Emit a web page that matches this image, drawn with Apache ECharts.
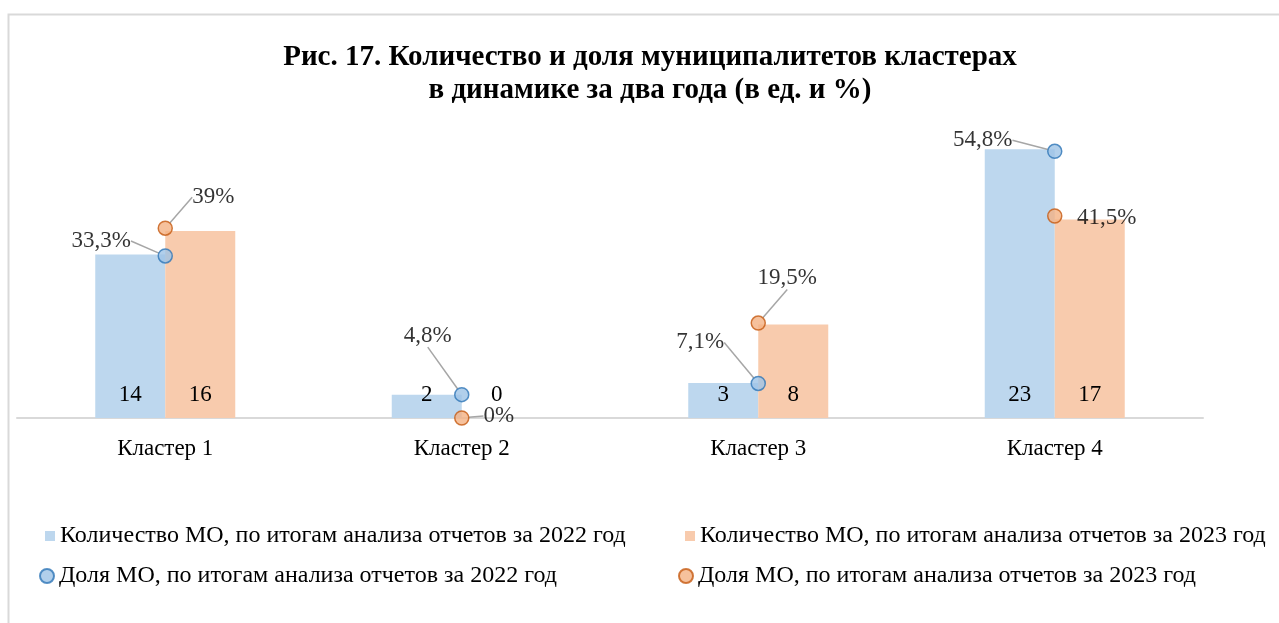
<!DOCTYPE html>
<html>
<head>
<meta charset="utf-8">
<script src="https://cdn.jsdelivr.net/npm/echarts@6/dist/echarts.min.js"></script>
<style>
html,body{margin:0;padding:0;background:#fff}
#Chart{width:1279px;height:623px}
</style>
</head>
<body>
<div id="Chart"></div>
<script>
// данные
var categories=["Кластер 1","Кластер 2","Кластер 3","Кластер 4"]
var count2022=[14,2,3,23]
var count2023=[16,0,8,17]
var share2022=[33.3,4.8,7.1,54.8]
var share2023=[39,0,19.5,41.5]
var names=[
    "Количество МО, по итогам анализа отчетов за 2022 год",
    "Количество МО, по итогам анализа отчетов за 2023 год",
    "Доля МО, по итогам анализа отчетов за 2022 год",
    "Доля МО, по итогам анализа отчетов за 2023 год"
]

// сдвиги подписей процентов
var shift2022=[[-64,-15],[-34,-59],[-58,-41],[-72,-11]]
var shift2023=[[48,-31],[37,-2],[29,-45],[52,2]]
// у какой подписи нет выноски
var noLine2023=[false,false,false,true]

var font="'Liberation Serif','Times New Roman',serif"

function fmt(v){
    return String(v).replace(".",",")+"%"
}

function legendItem(name,left,top,icon,w,h){
    return {
        data:[name],
        left:left,
        top:top,
        icon:icon,
        itemWidth:w,
        itemHeight:h,
        padding:0,
        textStyle:{fontFamily:font,fontSize:24,color:"#000"}
    }
}

function drawChar(){
    var myChart=echarts.init(document.getElementById('Chart'))
    var data2023=share2023.map(function(v,i){
        return noLine2023[i]?{value:v,labelLine:{show:false}}:v
    })
    var option={
        animation:false,
        title:{
            text:"Рис. 17. Количество и доля муниципалитетов кластерах\nв динамике за два года (в ед. и %)",
            left:650,
            top:41,
            padding:0,
            textAlign:"center",
            textStyle:{fontFamily:font,fontSize:29,fontWeight:"bold",color:"#000",lineHeight:33}
        },
        graphic:[{
            type:"rect",
            shape:{x:8.5,y:14.5,width:1300,height:700},
            style:{fill:"none",stroke:"#D9D9D9",lineWidth:2},
            silent:true
        }],
        legend:[
            legendItem(names[0],45,524,"rect",10,10),
            legendItem(names[1],685,524,"rect",10,10),
            legendItem(names[2],39,564,"circle",14,14),
            legendItem(names[3],678,564,"circle",14,14)
        ],
        grid:{left:17,right:76,top:126,bottom:205},
        xAxis:{
            type:"category",
            data:categories,
            axisLine:{lineStyle:{color:"#D9D9D9",width:2}},
            axisTick:{show:false},
            axisLabel:{fontFamily:font,fontSize:23,color:"#000",margin:19}
        },
        yAxis:[
            {type:"value",min:0,max:25,show:false,splitLine:{show:false}},
            {type:"value",min:0,max:60,show:false,splitLine:{show:false}}
        ],
        series:[
            {
                name:names[0],
                type:"bar",
                data:count2022,
                barWidth:70,
                barGap:"0%",
                itemStyle:{color:"#BDD7EE"},
                label:{show:true,position:"insideBottom",distance:12,fontFamily:font,fontSize:23,color:"#000"}
            },
            {
                name:names[1],
                type:"bar",
                data:count2023,
                barWidth:70,
                barGap:"0%",
                itemStyle:{color:"#F8CBAD"},
                label:{show:true,position:"insideBottom",distance:12,fontFamily:font,fontSize:23,color:"#000"}
            },
            {
                name:names[2],
                type:"scatter",
                yAxisIndex:1,
                data:share2022,
                symbolSize:14,
                itemStyle:{color:"#9DC3E6",borderColor:"#2E75B6",borderWidth:1.5},
                label:{show:true,position:"inside",fontFamily:font,fontSize:23,color:"#000",
                    formatter:function(p){return fmt(p.value)}},
                labelLine:{show:true,lineStyle:{color:"#A6A6A6",width:1.5}},
                labelLayout:function(p){
                    return {dx:shift2022[p.dataIndex][0],dy:shift2022[p.dataIndex][1]}
                },
                z:5
            },
            {
                name:names[3],
                type:"scatter",
                yAxisIndex:1,
                data:data2023,
                symbolSize:14,
                itemStyle:{color:"#F4B183",borderColor:"#C55A11",borderWidth:1.5},
                label:{show:true,position:"inside",fontFamily:font,fontSize:23,color:"#000",
                    formatter:function(p){return fmt(p.value)}},
                labelLine:{show:true,lineStyle:{color:"#A6A6A6",width:1.5}},
                labelLayout:function(p){
                    return {dx:shift2023[p.dataIndex][0],dy:shift2023[p.dataIndex][1]}
                },
                z:5
            }
        ]
    }
    myChart.setOption(option)
}

drawChar()
</script>
</body>
</html>
